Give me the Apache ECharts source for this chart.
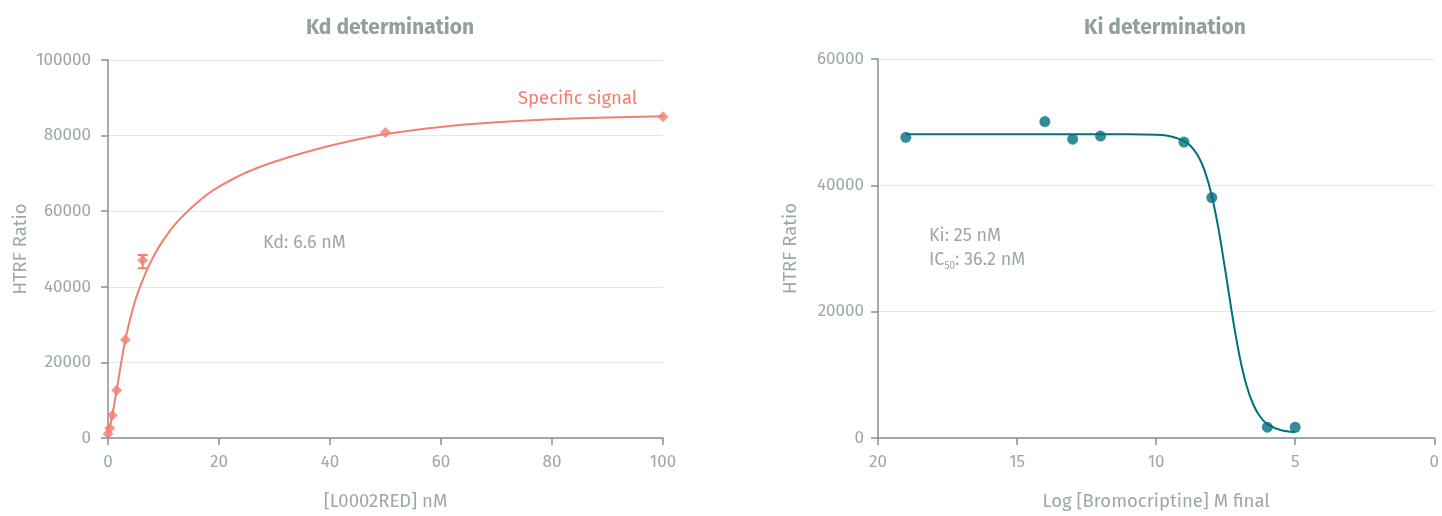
<!DOCTYPE html>
<html>
<head>
<meta charset="utf-8">
<script src="https://cdn.jsdelivr.net/npm/echarts@6/dist/echarts.min.js"></script>
<style>
html,body{margin:0;padding:0;background:#fff;width:100%;height:100%;overflow:hidden;}
#c{width:100vw;height:100vh;}
</style>
</head>
<body>
<div id="c"></div>
<script>
// Kd determination data
var kdX = [0, 0.3, 0.78, 1.56, 3.125, 6.25, 50, 100];
var kdY = [1100, 2600, 6000, 12600, 26000, 47000, 80800, 85000];
var kdErrX = [6.25];
var kdErrLow = [44900];
var kdErrHigh = [48400];
// fitted curve
var kdCurveX = [0, 0.3, 0.78, 1.56, 3.125, 5, 7, 8.5, 10, 12, 14.5, 17.5, 20, 25, 30, 40, 50, 60, 70, 80, 90, 100];
var kdCurveY = [1100, 2600, 6100, 12700, 26000, 36800, 44400, 48800, 52400, 56400, 60200, 64000, 66500, 70300, 73100, 77300, 80400, 82300, 83500, 84300, 84800, 85100];
var kdXTicks = [0, 20, 40, 60, 80, 100];
var kdYTicks = [0, 20000, 40000, 60000, 80000, 100000];

// Ki determination data
var kiX = [19, 14, 13, 12, 9, 8, 6, 5];
var kiY = [47600, 50100, 47300, 47800, 46850, 38070, 1720, 1700];
var kiCurveX = [19, 17, 15, 13, 11, 10, 9.5, 9, 8.75, 8.5, 8.25, 8, 7.75, 7.5, 7.25, 7, 6.75, 6.5, 6.25, 6, 5.5, 5];
var kiCurveY = [48100, 48100, 48100, 48100, 48090, 48000, 47780, 47040, 46190, 44710, 42250, 38400, 32920, 26160, 19110, 12940, 8300, 5220, 3320, 2210, 1230, 930];
var kiXTicks = [20, 15, 10, 5, 0];
var kiYTicks = [0, 20000, 40000, 60000];

var SALMON = '#f0806f';
var TEAL = '#00717f';
var GREY = '#9ba7aa';
var AXIS = '#7f9296';
var FONT = '"Fira Sans", "Open Sans", "Noto Sans", sans-serif';

function zip(a, b) { return a.map(function (v, i) { return [v, b[i]]; }); }
function plain(v) { return String(v); }

var chart = echarts.init(document.getElementById('c'));

function axisCommon() {
  return {
    axisLine: { show: true, onZero: false, lineStyle: { color: AXIS, width: 1.5 } },
    axisTick: { show: true, length: 7, lineStyle: { color: AXIS, width: 1.5 } },
    axisLabel: { color: GREY, fontSize: 17, fontFamily: FONT, formatter: plain },
    nameTextStyle: { color: GREY, fontSize: 18.5, fontFamily: FONT },
    splitLine: { show: false }
  };
}

var xa0 = axisCommon();
Object.assign(xa0, {
  type: 'value', gridIndex: 0, min: kdXTicks[0], max: kdXTicks[kdXTicks.length - 1], interval: 20,
  name: '[L0002RED] nM', nameLocation: 'middle', nameGap: 54
});
xa0.axisLabel.margin = 16;
var ya0 = axisCommon();
Object.assign(ya0, {
  type: 'value', gridIndex: 0, min: kdYTicks[0], max: kdYTicks[kdYTicks.length - 1], interval: 20000,
  name: 'HTRF Ratio', nameLocation: 'middle', nameGap: 78,
  splitLine: { show: true, lineStyle: { color: '#e6e8e8', width: 1 } }
});
ya0.axisLabel.margin = 17;

var xa1 = axisCommon();
Object.assign(xa1, {
  type: 'value', gridIndex: 1, min: kiXTicks[kiXTicks.length - 1], max: kiXTicks[0], interval: 5, inverse: true,
  name: 'Log [Bromocriptine] M final', nameLocation: 'middle', nameGap: 54
});
xa1.axisLabel.margin = 16;
var ya1 = axisCommon();
Object.assign(ya1, {
  type: 'value', gridIndex: 1, min: kiYTicks[0], max: kiYTicks[kiYTicks.length - 1], interval: 20000,
  name: 'HTRF Ratio', nameLocation: 'middle', nameGap: 78,
  splitLine: { show: true, lineStyle: { color: '#e6e8e8', width: 1 } }
});
ya1.axisLabel.margin = 14;

var option = {
  backgroundColor: '#fff',
  animation: false,
  title: [
    { text: 'Kd determination', left: 385, top: 13, textAlign: 'center',
      textStyle: { color: '#929ea0', fontSize: 21, fontWeight: 'bold', fontFamily: FONT } },
    { text: 'Ki determination', left: 1160, top: 13, textAlign: 'center',
      textStyle: { color: '#929ea0', fontSize: 21, fontWeight: 'bold', fontFamily: FONT } }
  ],
  grid: [
    { left: 108, right: 779, top: 60, bottom: 74 },
    { left: 878, right: 4, top: 59, bottom: 73 }
  ],
  xAxis: [xa0, xa1],
  yAxis: [ya0, ya1],
  series: [
    { type: 'line', xAxisIndex: 0, yAxisIndex: 0, data: zip(kdCurveX, kdCurveY), smooth: 0.3,
      showSymbol: false, lineStyle: { color: SALMON, width: 2 }, z: 2 },
    { type: 'scatter', xAxisIndex: 0, yAxisIndex: 0, data: zip(kdX, kdY), symbol: 'diamond',
      symbolSize: 11, itemStyle: { color: SALMON }, z: 3 },
    { type: 'custom', xAxisIndex: 0, yAxisIndex: 0,
      data: kdErrX.map(function (x, i) { return [x, kdErrLow[i], kdErrHigh[i]]; }),
      renderItem: function (params, api) {
        var lo = api.coord([api.value(0), api.value(1)]);
        var hi = api.coord([api.value(0), api.value(2)]);
        var w = 5;
        var st = { stroke: SALMON, lineWidth: 2 };
        return { type: 'group', children: [
          { type: 'line', shape: { x1: hi[0], y1: hi[1], x2: lo[0], y2: lo[1] }, style: st },
          { type: 'line', shape: { x1: hi[0] - w, y1: hi[1], x2: hi[0] + w, y2: hi[1] }, style: st },
          { type: 'line', shape: { x1: lo[0] - w, y1: lo[1], x2: lo[0] + w, y2: lo[1] }, style: st }
        ]};
      }, z: 3 },
    { type: 'line', xAxisIndex: 1, yAxisIndex: 1, data: zip(kiCurveX, kiCurveY), smooth: 0.3,
      showSymbol: false, lineStyle: { color: TEAL, width: 2 }, z: 2 },
    { type: 'scatter', xAxisIndex: 1, yAxisIndex: 1, data: zip(kiX, kiY), symbol: 'circle',
      symbolSize: 11, itemStyle: { color: TEAL }, z: 3 }
  ],
  graphic: [
    { type: 'text', left: 518, top: 89, style: { text: 'Specific signal', fill: SALMON, fontSize: 18.5, fontFamily: FONT } },
    { type: 'text', left: 263, top: 234, style: { text: 'Kd: 6.6 nM', fill: GREY, fontSize: 18, fontFamily: FONT } },
    { type: 'text', left: 929, top: 227, style: { text: 'Ki: 25 nM', fill: GREY, fontSize: 18, fontFamily: FONT } },
    { type: 'text', left: 929, top: 251, style: {
      text: '{a|IC}{s|50}{a|: 36.2 nM}',
      rich: {
        a: { fill: GREY, fontSize: 18, fontFamily: FONT, lineHeight: 22, verticalAlign: 'middle' },
        s: { fill: GREY, fontSize: 10, fontFamily: FONT, lineHeight: 12, verticalAlign: 'bottom' }
      } } }
  ]
};
chart.setOption(option);
</script>
</body>
</html>
